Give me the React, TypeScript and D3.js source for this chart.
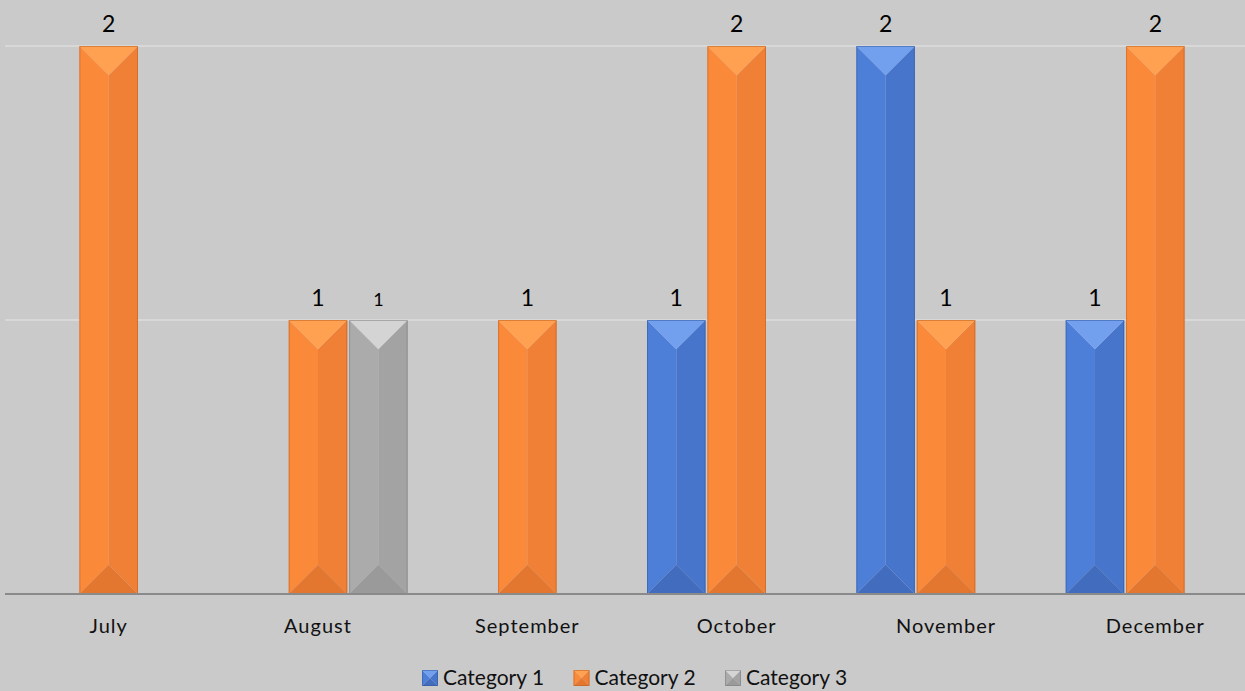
import React from "react";
import * as d3 from "d3";

const months = ["July", "August", "September", "October", "November", "December"];
const seriesNames = ["Category 1", "Category 2", "Category 3"];
const cat1 = [0, 0, 0, 1, 2, 1];
const cat2 = [2, 1, 1, 2, 1, 2];
const cat3 = [0, 1, 0, 0, 0, 0];
const yTicks = [1, 2];

const W = 1245;
const H = 691;

// bevel shades per series: top facet, left half, right half, bottom facet, outline
const palette = [
  { top: "#72a0ee", left: "#4d7ed8", right: "#4775cb", bottom: "#426cbd", edge: "#2f5597" },
  { top: "#ffa150", left: "#fa8a3a", right: "#f08035", bottom: "#e4772f", edge: "#b85c1e" },
  { top: "#d4d4d4", left: "#ababab", right: "#a3a3a3", bottom: "#9a9a9a", edge: "#7a7a7a" },
];
const labelSize = [23, 23, 18];

const Bar = ({ x, y, w, h, c }) => {
  const d = Math.min(w / 2, h / 2);
  const m = w / 2;
  const pts = (arr) => arr.map((p) => `${x + p[0]},${y + p[1]}`).join(" ");
  return (
    <g>
      <polygon points={pts([[0, 0], [m, d], [m, h - d], [0, h]])} fill={c.left} />
      <polygon points={pts([[w, 0], [m, d], [m, h - d], [w, h]])} fill={c.right} />
      <polygon points={pts([[0, 0], [w, 0], [m, d]])} fill={c.top} />
      <polygon points={pts([[0, h], [w, h], [m, h - d]])} fill={c.bottom} />
      <rect x={x + 0.5} y={y + 0.5} width={w - 1} height={h - 1} fill="none" stroke={c.edge} strokeOpacity={0.5} />
    </g>
  );
};

export default function App() {
  const values = [cat1, cat2, cat3];
  const x0 = d3.scaleBand().domain(months).range([4, 1260]).paddingInner(0.126).paddingOuter(0.063);
  const x1 = d3.scaleBand().domain(seriesNames).range([0, x0.bandwidth()]).padding(0.03);
  const y = d3.scaleLinear().domain([0, 2]).range([594, 46]);
  const font = "Lato, 'Open Sans', sans-serif";

  return (
    <svg width={W} height={H} style={{ position: "fixed", left: 0, top: 0 }} fontFamily={font}>
      <rect width={W} height={H} fill="#cacaca" />
      {yTicks.map((t) => (
        <line key={t} x1={5} x2={W} y1={y(t)} y2={y(t)} stroke="#dcdcdc" strokeWidth={1.5} />
      ))}
      {months.map((m, i) => (
        <g key={m}>
          {seriesNames.map((s, j) => {
            const v = values[j][i];
            if (!v) return null;
            const bx = x0(m) + x1(s);
            const by = y(v);
            return (
              <g key={s}>
                <Bar x={bx} y={by} w={x1.bandwidth()} h={y(0) - by} c={palette[j]} />
                <text x={bx + x1.bandwidth() / 2} y={by - 14} textAnchor="middle" fontSize={labelSize[j]} fill="#000">
                  {v}
                </text>
              </g>
            );
          })}
          <text x={x0(m) + x0.bandwidth() / 2} y={633} textAnchor="middle" fontSize={20} letterSpacing={1} fill="#111">
            {m}
          </text>
        </g>
      ))}
      <line x1={5} x2={W} y1={y(0)} y2={y(0)} stroke="#8a8a8a" strokeWidth={2} />
      {seriesNames.map((s, j) => {
        const lx = 422 + j * 151.5;
        const c = palette[j];
        return (
          <g key={s}>
            <Bar x={lx} y={670} w={16} h={16} c={c} />
            <text x={lx + 21} y={685} fontSize={21} fill="#111">
              {s}
            </text>
          </g>
        );
      })}
    </svg>
  );
}
